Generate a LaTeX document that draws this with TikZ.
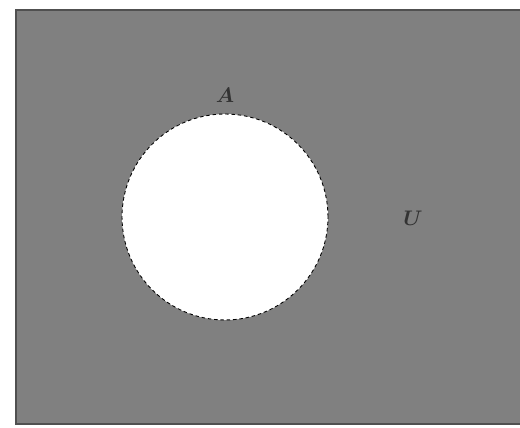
\documentclass[tikz,border=0pt]{standalone}
\usepackage{xcolor}
\usepackage{tikz}
\usetikzlibrary{positioning}
\definecolor{vnfill}{HTML}{808080}
\definecolor{vnedge}{HTML}{505050}

\begin{document}
\begin{tikzpicture}[x=0.02cm, y=-0.02cm,
  setcircle/.style={circle, draw=black, fill=white, line width=0.5pt, dash pattern=on 2pt off 1.6pt, minimum size=4.12cm, inner sep=0pt},
  setlabel/.style={font=\large\boldmath, text=black!80}
]
  \useasboundingbox (0,0) rectangle (520,428);
  \begin{scope}
    \clip (0,0) rectangle (520,428);
    \draw[vnedge, fill=vnfill, line width=1.2pt] (16,10) rectangle (540,424);
  \end{scope}

  \node[setcircle] (setA) at (225,217) {};
  \node[setlabel] (labA) at (225,95) {$A$};
  \node[setlabel] (labU) at (413,218) {$U$};
\end{tikzpicture}
\end{document}
